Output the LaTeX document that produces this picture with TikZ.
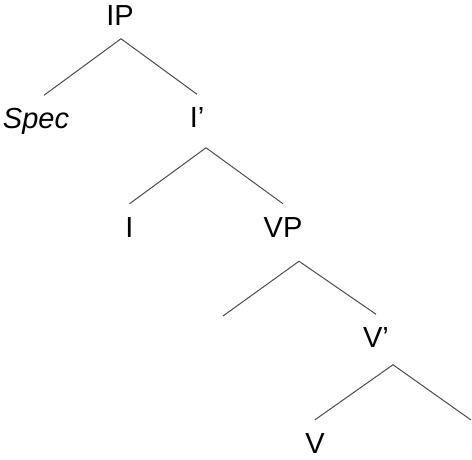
\documentclass[tikz,border=0pt]{standalone}
\usepackage{fontspec}
\setmainfont{Liberation Sans}
\tikzstyle{cat}=[font=\fontsize{29}{35}\selectfont, inner sep=0pt, text height=20.5pt, text depth=0pt, outer ysep=13pt]
\tikzstyle{branch}=[line width=1pt, black!70]
\newcommand{\fork}[3]{% Syntax: {apex}{left end}{right end}
\draw[branch] (#2) -- (#1) -- (#3);
}

\begin{document}
\begin{tikzpicture}[x=1pt,y=-1pt]
	\useasboundingbox (0,0) rectangle (472,459);
	% categories
	\node[cat] (IP) at (120,15.5) {IP};
	\node[cat] (Spec) at (36,118.5) {\itshape Spec};
	\node[cat] (Ibar) at (197,117.5) {I'};
	\node[cat] (I) at (129.5,227) {I};
	\node[cat] (VP) at (283,227) {VP};
	\node[cat] (Vbar) at (376,337.5) {V'};
	\node[cat] (V) at (315,443) {V};
	% branching points
	\coordinate (IPfork) at ([xshift=1pt]IP.south);
	\coordinate (Ibarfork) at ([xshift=9pt,yshift=-7pt]Ibar.south);
	\coordinate (VPfork) at ([xshift=16pt,yshift=-11pt]VP.south);
	\coordinate (Vbarfork) at ([xshift=17pt,yshift=-4pt]Vbar.south);
	% empty daughters
	\coordinate (VPspec) at (223,316);
	\coordinate (Vcomp) at (471,420);
	\fork{IPfork}{[xshift=8pt]Spec.north}{Ibar.north}
	\fork{Ibarfork}{I.north}{VP.north}
	\fork{VPfork}{VPspec}{Vbar.north}
	\fork{Vbarfork}{V.north}{Vcomp}
\end{tikzpicture}
\end{document}
